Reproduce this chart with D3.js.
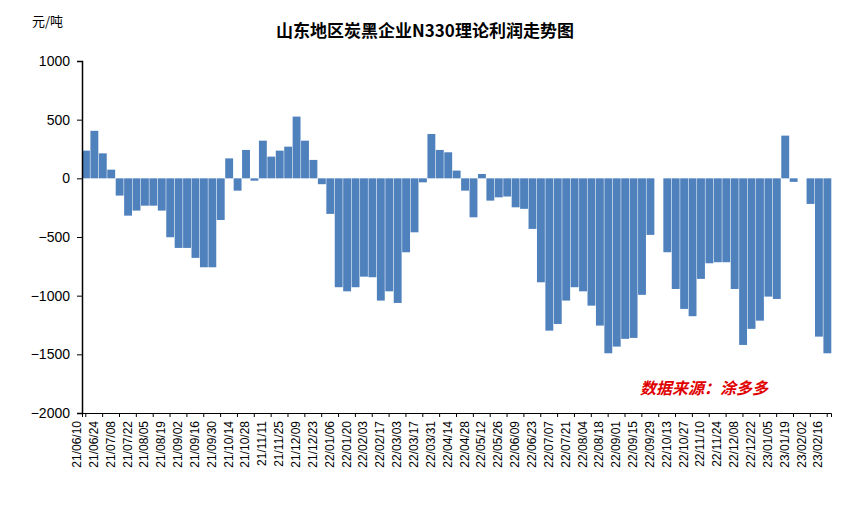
<!DOCTYPE html>
<html><head><meta charset="utf-8">
<script src="https://cdn.jsdelivr.net/npm/d3@7"></script>
<style>body{margin:0;background:#fff}</style></head>
<body><svg id="c" width="851" height="511"></svg>
<script>
const tickLabels=["21/06/10","21/06/24","21/07/08","21/07/22","21/08/05","21/08/19","21/09/02","21/09/16","21/09/30","21/10/14","21/10/28","21/11/11","21/11/25","21/12/09","21/12/23","22/01/06","22/01/20","22/02/03","22/02/17","22/03/03","22/03/17","22/03/31","22/04/14","22/04/28","22/05/12","22/05/26","22/06/09","22/06/23","22/07/07","22/07/21","22/08/04","22/08/18","22/09/01","22/09/15","22/09/29","22/10/13","22/10/27","22/11/10","22/11/24","22/12/08","22/12/22","23/01/05","23/01/19","23/02/02","23/02/16"];
const values=[236,405,213,74,-147,-318,-275,-233,-233,-275,-502,-593,-593,-678,-758,-758,-355,170,-105,242,-20,321,185,236,270,526,321,157,-50,-303,-928,-963,-928,-838,-843,
-1042,-963,-1062,-630,-460,-34,378,242,222,66,-105,-332,37,-190,-162,-155,-247,-260,-431,-886,-1298,-1241,-1042,-928,-963,-1085,-1255,-1491,-1434,-1368,-1360,-993,-482,
0,-630,-943,-1113,-1175,-857,-724,-715,-715,-943,-1420,-1283,-1213,-1008,-1028,364,-30,0,-218,-1349,-1491];
const yTicks=[1000,500,0,-500,-1000,-1500,-2000];
const idx=values.map((d,i)=>i);
const svg=d3.select("#c");
const L=82,R=831,T=61,B=413;
const x=d3.scaleBand().domain(idx).range([L,R]).paddingInner(0.1).paddingOuter(0);
const y=d3.scaleLinear().domain([-2000,1000]).range([B,T]);
svg.append("g").selectAll("rect").data(values).join("rect")
 .attr("x",(d,i)=>x(i)).attr("width",x.bandwidth()+0.3)
 .attr("y",d=>y(Math.max(0,d))).attr("height",d=>Math.abs(y(d)-y(0)))
 .attr("fill","#4f81bd");
const ya=svg.append("g").attr("transform",`translate(${L},0)`)
 .call(d3.axisLeft(y).tickValues(yTicks).tickSize(5).tickFormat(d3.format("d")));
ya.select(".domain").attr("stroke","#000").attr("stroke-width",1.5);
ya.selectAll("text").attr("font-family","Arial, Liberation Sans").attr("font-size",14).attr("fill","#000").attr("dx",-4);
const xa=svg.append("g").attr("transform",`translate(0,${B})`)
 .call(d3.axisBottom(x).tickValues(idx.filter(i=>i%2===0)).tickSize(4).tickFormat(i=>tickLabels[i/2]));
xa.select(".domain").attr("stroke","#000");
xa.selectAll("text").attr("font-family","Arial, Liberation Sans").attr("font-size",12).attr("fill","#000")
 .attr("transform","rotate(-90)").attr("text-anchor","end").attr("dx","-6").attr("dy","-0.4em").attr("y",0).attr("x",-2);
svg.append("text").attr("x",425).attr("y",37).attr("text-anchor","middle")
 .attr("font-family","Noto Sans CJK SC").attr("font-weight","bold").attr("font-size",17).text("山东地区炭黑企业N330理论利润走势图");
svg.append("text").attr("x",32).attr("y",26).attr("font-family","Noto Sans CJK SC").attr("font-size",13).text("元/吨");
svg.append("text").attr("x",640).attr("y",394).attr("fill","#e00000").attr("font-style","italic").attr("font-weight","bold")
 .attr("font-family","Noto Sans CJK SC").attr("font-size",16).text("数据来源：涂多多");
</script></body></html>
